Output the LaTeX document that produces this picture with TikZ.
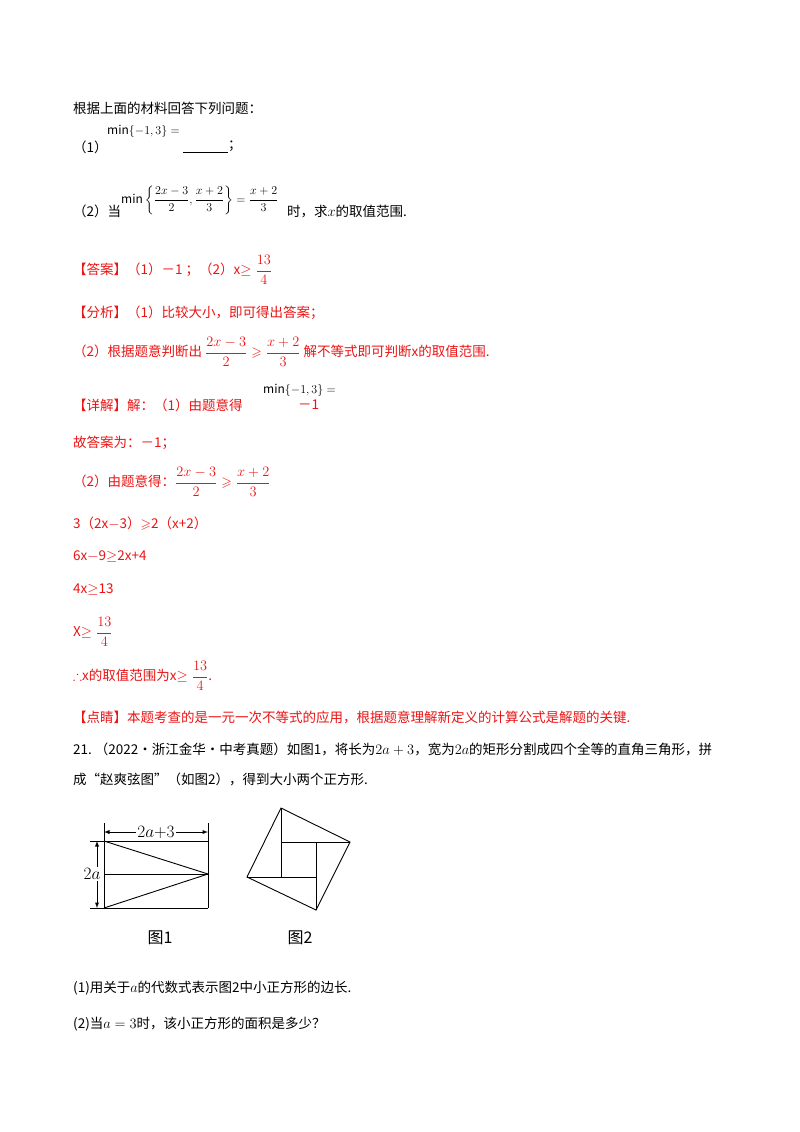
\documentclass[tikz,border=0pt]{standalone}
\usepackage{amsmath,amssymb}
\usepackage{fontspec}
\setmainfont{Noto Sans CJK SC}
\definecolor{ansred}{RGB}{235,20,20}
\begin{document}
\begin{tikzpicture}[x=1pt,y=-1pt,
  t/.style={anchor=west,inner sep=0pt,font=\fontsize{13.5}{15}\selectfont},
  r/.style={t,text=ansred},
  m/.style={anchor=west,inner sep=0pt,font=\fontsize{12}{14}\selectfont},
  fig/.style={line width=0.9pt}]
\useasboundingbox (0,0) rectangle (800,1132);
\fill[white] (0,0) rectangle (800,1132);
\node[t] (l1) at (73,108) {根据上面的材料回答下列问题：};
\node[t] (q1) at (73,147) {（1）};
\node[m] (q1m) at (107,131) {$\min\{-1,3\}=$};
\node[t] (q1b) at (183,147) {\underline{\hspace{45pt}}；};
\node[t] (q2) at (73,211) {（2）当};
\node[m] (q2m) at (121,200) {$\min\left\{\dfrac{2x-3}{2},\dfrac{x+2}{3}\right\}=\dfrac{x+2}{3}$};
\node[t] (q2e) at (287,212) {时，求$x$的取值范围.};
\node[r] (ans) at (73,270) {【答案】（1）－1 ；（2）x$\geq\dfrac{13}{4}$};
\node[r] (fx) at (73,313) {【分析】（1）比较大小，即可得出答案；};
\node[r] (fx2) at (73,352) {（2）根据题意判断出 $\dfrac{2x-3}{2}\geqslant\dfrac{x+2}{3}$ 解不等式即可判断x的取值范围.};
\node[r] (xj) at (73,405) {【详解】解：（1）由题意得};
\node[m] (xjm) at (263,390) {$\min\{-1,3\}=$};
\node[r] (xjv) at (298,405) {－1};
\node[r] (gd) at (73,443) {故答案为：－1；};
\node[r] (s2) at (73,482) {（2）由题意得：$\dfrac{2x-3}{2}\geqslant\dfrac{x+2}{3}$};
\node[r] (s3) at (73,524) {3（2x$-$3）$\geqslant$2（x+2）};
\node[r] (s4) at (73,557) {6x$-$9$\geq$2x+4};
\node[r] (s5) at (73,590) {4x$\geq$13};
\node[r] (s6) at (73,632) {X$\geq\dfrac{13}{4}$};
\node[r] (s7) at (73,676) {$\therefore$x的取值范围为x$\geq\dfrac{13}{4}$.};
\node[r] (dj) at (73,717) {【点睛】本题考查的是一元一次不等式的应用，根据题意理解新定义的计算公式是解题的关键.};
\node[t] (p21) at (73,749) {21.\ （2022·浙江金华·中考真题）如图1，将长为$2a+3$，宽为$2a$的矩形分割成四个全等的直角三角形，拼};
\node[t] (p21b) at (73,779) {成“赵爽弦图”（如图2），得到大小两个正方形.};
% figure 1
\draw[fig] (104,823) -- (104,908) (208,823) -- (208,908);
\draw[fig] (90,841) -- (208,841) (104,874) -- (208,874) (90,908) -- (208,908);
\draw[fig] (104,841) -- (208,874) -- (104,908);
\node[inner sep=1pt,fill=white,font=\fontsize{16}{18}\selectfont] (w) at (156,832) {$2a{+}3$};
\draw[fig,-latex] (w.west) -- (104,832);
\draw[fig,-latex] (w.east) -- (208,832);
\node[inner sep=1pt,fill=white,font=\fontsize{16}{18}\selectfont] (h) at (92,874) {$2a$};
\draw[fig,-latex] (h.north) ++(5,0) -- (97,841);
\draw[fig,-latex] (h.south) ++(5,0) -- (97,908);
\node[font=\fontsize{16}{18}\selectfont] (f1) at (160,938) {图1};
% figure 2
\coordinate (A) at (281,808); \coordinate (B) at (350,842);
\coordinate (C) at (316,910); \coordinate (D) at (247,877);
\draw[fig] (A) -- (B) -- (C) -- (D) -- cycle;
\draw[fig] (A) -- (281,877) (B) -- (281,842) (C) -- (316,842) (D) -- (316,877);
\node[font=\fontsize{16}{18}\selectfont] (f2) at (300,938) {图2};
\node[t] (b1) at (73,988) {(1)用关于$a$的代数式表示图2中小正方形的边长.};
\node[t] (b2) at (73,1024) {(2)当$a=3$时，该小正方形的面积是多少？};
\end{tikzpicture}
\end{document}
